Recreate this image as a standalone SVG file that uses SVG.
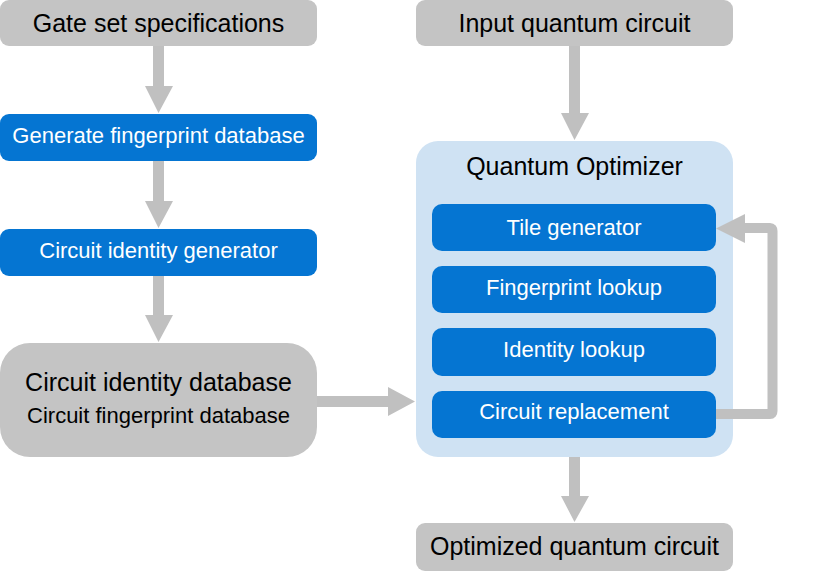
<svg xmlns="http://www.w3.org/2000/svg" width="813" height="571" viewBox="0 0 813 571">
<style>
.gray{fill:#c4c4c4}
.blue{fill:#0575d2}
.panel{fill:#cfe2f3}
.t{font-family:"Liberation Sans",Arial,sans-serif;text-anchor:middle}
.big{font-size:25px;fill:#000}
.small{font-size:22px;fill:#000}
.w{font-size:22px;fill:#fff}
.arrow{fill:#c0c0c0}
.line{fill:none;stroke:#c0c0c0;stroke-width:10}
</style>
<g id="gate-set">
  <rect class="gray" x="0" y="0" width="317" height="46" rx="9"/>
  <text class="t big" x="158.5" y="32">Gate set specifications</text>
</g>
<g id="generate-fingerprint">
  <rect class="blue" x="0" y="114" width="317" height="47" rx="9"/>
  <text class="t w" x="158.5" y="143">Generate fingerprint database</text>
</g>
<g id="identity-generator">
  <rect class="blue" x="0" y="229" width="317" height="47" rx="9"/>
  <text class="t w" x="158.5" y="258">Circuit identity generator</text>
</g>
<g id="identity-database">
  <rect class="gray" x="0" y="343" width="317" height="114" rx="30"/>
  <text class="t big" x="158.5" y="391">Circuit identity database</text>
  <text class="t small" x="158.5" y="423">Circuit fingerprint database</text>
</g>
<g id="input-circuit">
  <rect class="gray" x="416" y="0" width="317" height="46" rx="9"/>
  <text class="t big" x="574.5" y="32">Input quantum circuit</text>
</g>
<g id="optimizer">
  <rect class="panel" x="416" y="141" width="317" height="316" rx="22"/>
  <text class="t big" x="574.5" y="175">Quantum Optimizer</text>
</g>
<g id="tile-generator">
  <rect class="blue" x="432" y="204" width="284" height="47" rx="10"/>
  <text class="t w" x="574" y="235">Tile generator</text>
</g>
<g id="fingerprint-lookup">
  <rect class="blue" x="432" y="266" width="284" height="47" rx="10"/>
  <text class="t w" x="574" y="295">Fingerprint lookup</text>
</g>
<g id="identity-lookup">
  <rect class="blue" x="432" y="328" width="284" height="48" rx="10"/>
  <text class="t w" x="574" y="357">Identity lookup</text>
</g>
<g id="circuit-replacement">
  <rect class="blue" x="432" y="391" width="284" height="47" rx="10"/>
  <text class="t w" x="574" y="419">Circuit replacement</text>
</g>
<g id="optimized-circuit">
  <rect class="gray" x="416" y="523" width="317" height="48" rx="9"/>
  <text class="t big" x="574.5" y="555">Optimized quantum circuit</text>
</g>
<g id="connectors">
  <path class="arrow" d="M153,46 H164 V86 H173 L158.5,113 L145,86 H153 Z"/>
  <path class="arrow" d="M153,161 H164 V201 H173 L158.5,228 L145,201 H153 Z"/>
  <path class="arrow" d="M153,276 H164 V315 H173 L158.5,342 L145,315 H153 Z"/>
  <path class="arrow" d="M317,396 H388 V387 L415,401.5 L388,416 V407 H317 Z"/>
  <path class="arrow" d="M569,46 H580 V113 H589 L574.5,140 L561,113 H569 Z"/>
  <path class="arrow" d="M569,457 H580 V496 H589 L574.5,522 L561,496 H569 Z"/>
  <path class="line" d="M716,414 H770 Q772.5,414 772.5,411 V231 Q772.5,228 770,228 H742"/>
  <path class="arrow" d="M745,214 L716,228.5 L745,243 Z"/>
</g>
</svg>
